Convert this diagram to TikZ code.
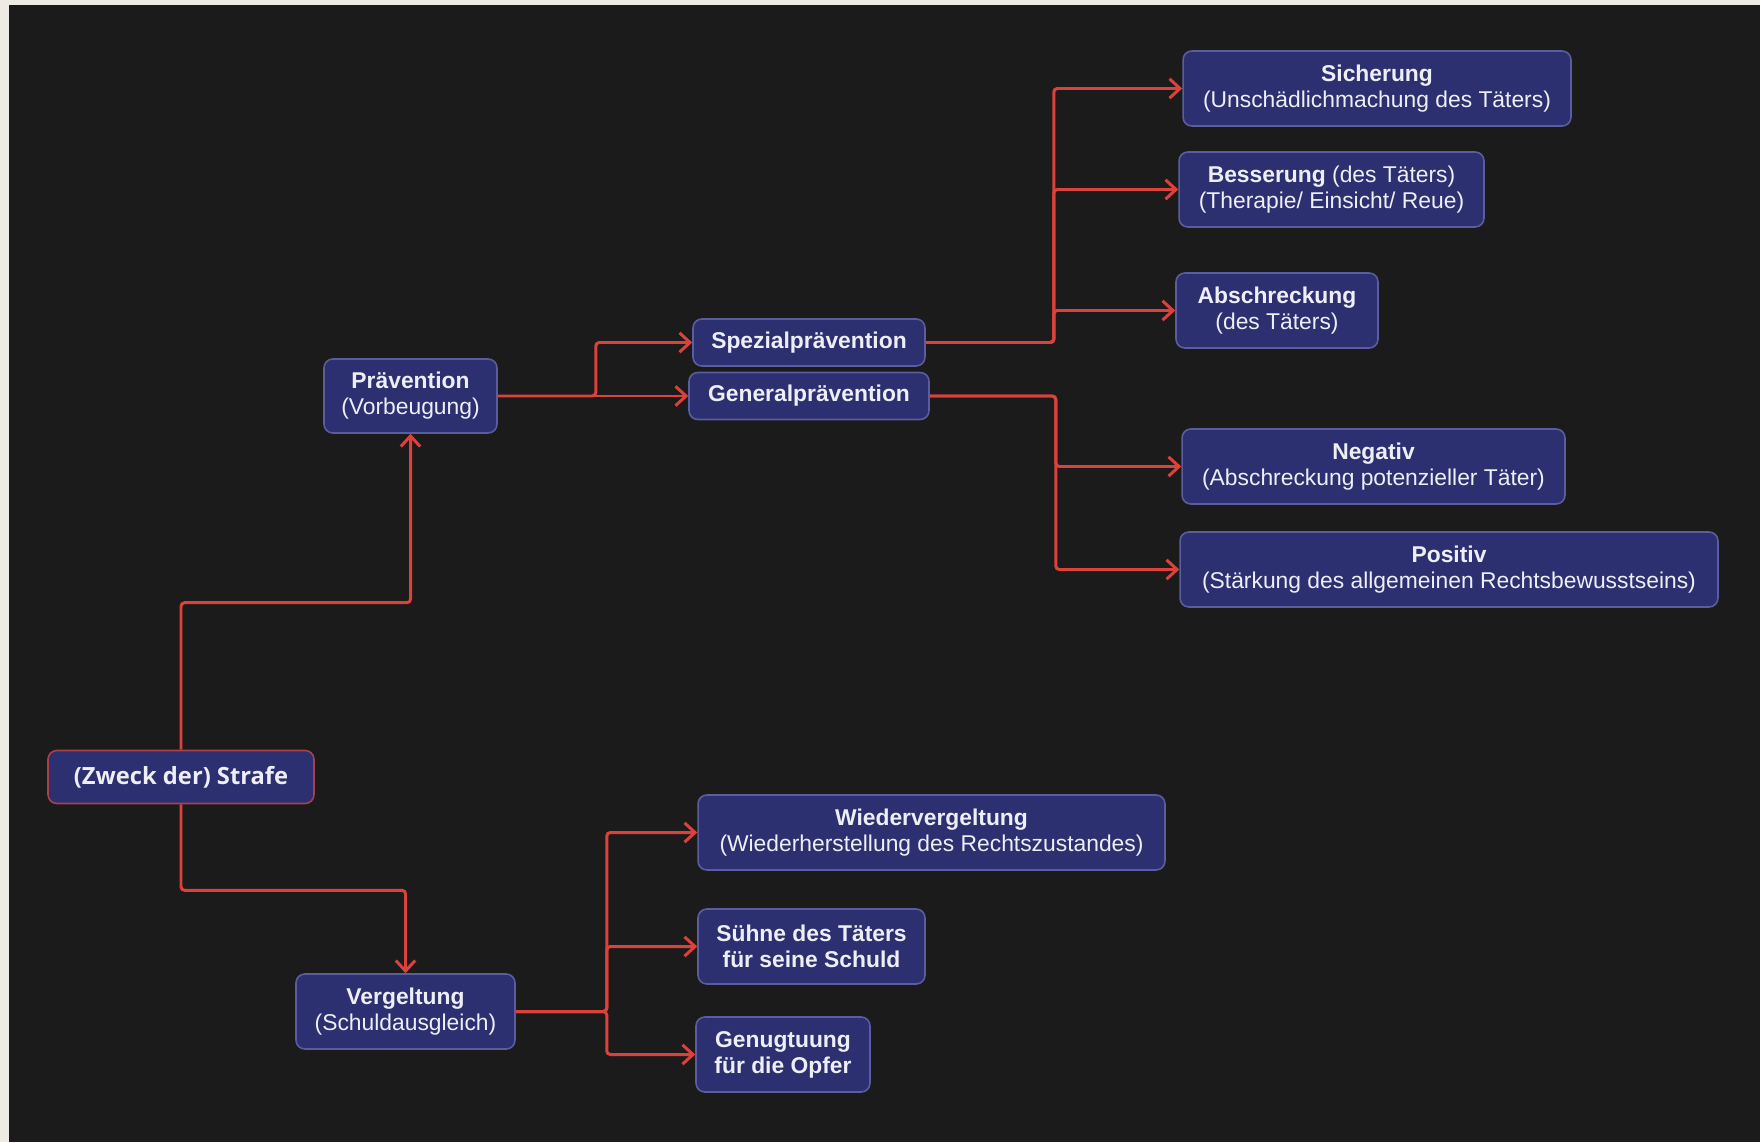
\documentclass[tikz,border=0pt]{standalone}
\usepackage{fontspec}
\setmainfont{Liberation Sans}
\newfontfamily\wurzelfont{Open Sans}
\usetikzlibrary{arrows.meta}
\definecolor{hintergrund}{HTML}{1B1B1B}
\definecolor{rand}{HTML}{EEEBE4}
\definecolor{boxblau}{HTML}{2C3070}
\definecolor{boxrand}{HTML}{5A5E9E}
\definecolor{wurzelrand}{HTML}{A9404E}
\definecolor{linie}{HTML}{DC413B}
\definecolor{schrift}{HTML}{EEEEF6}
\tikzset{
	zweckbox/.style={align=center,rectangle,rounded corners=5pt,draw=boxrand,line width=0.9pt,fill=boxblau,text=schrift,inner sep=2pt,minimum height=1.5cm,font=\fontsize{13}{14.8}\selectfont},
	wurzelbox/.style={zweckbox,draw=wurzelrand,minimum height=1.06cm,font=\wurzelfont\bfseries\fontsize{13.5}{16}\selectfont},
	pfeil/.style={draw=linie,line width=1.7pt,rounded corners=2pt,-{Straight Barb[length=6pt,width=11pt]}}
}
\begin{document}
\begin{tikzpicture}[x=0.02cm,y=-0.02cm]
						\fill[rand] (0,0) rectangle (1760,1142);
						\fill[hintergrund] (9,5) rectangle (1760,1142);
						\useasboundingbox (0,0) rectangle (1760,1142);

						\node (strafe)[wurzelbox,minimum width=5.32cm] at (181,777) {(Zweck der) Strafe};
						\node (praevention)[zweckbox,minimum width=3.46cm,minimum height=1.48cm] at (410.5,396) {\textbf{Prävention}\\(Vorbeugung)};
						\node (vergeltung)[zweckbox,minimum width=4.38cm] at (405.5,1011.5) {\textbf{Vergeltung}\\(Schuldausgleich)};

						\node (spezial)[zweckbox,minimum width=4.64cm,minimum height=0.94cm] at (809,342.5) {\textbf{Spezialprävention}};
						\node (general)[zweckbox,minimum width=4.8cm,minimum height=0.94cm] at (809,396) {\textbf{Generalprävention}};

						\node (sicherung)[zweckbox,minimum width=7.76cm] at (1377,88.5) {\textbf{Sicherung}\\(Unschädlichmachung des Täters)};
						\node (besserung)[zweckbox,minimum width=6.1cm] at (1331.5,189.5) {\textbf{Besserung} (des Täters)\\(Therapie/ Einsicht/ Reue)};
						\node (abschreckung)[zweckbox,minimum width=4.04cm] at (1277,310.5) {\textbf{Abschreckung}\\(des Täters)};
						\node (negativ)[zweckbox,minimum width=7.66cm] at (1373.5,466.5) {\textbf{Negativ}\\(Abschreckung potenzieller Täter)};
						\node (positiv)[zweckbox,minimum width=10.76cm] at (1449,569.5) {\textbf{Positiv}\\(Stärkung des allgemeinen Rechtsbewusstseins)};

						\node (wieder)[zweckbox,minimum width=9.34cm] at (931.5,832.5) {\textbf{Wiedervergeltung}\\(Wiederherstellung des Rechtszustandes)};
						\node (suehne)[zweckbox,minimum width=4.54cm] at (811.5,946.5) {\textbf{Sühne des Täters}\\\textbf{für seine Schuld}};
						\node (genug)[zweckbox,minimum width=3.48cm] at (783,1054.5) {\textbf{Genugtuung}\\\textbf{für die Opfer}};

						\draw[pfeil] (strafe.north) -- ++(0,-147) -| (praevention.south);
						\draw[pfeil] (strafe.south) -- ++(0,86) -| (vergeltung.north);

						\draw[pfeil] (praevention.east) -- ++(98,0) |- (spezial.west);
						\draw[pfeil] (praevention.east) -- (general.west);

						\draw[pfeil] (spezial.east) -- ++(128,0) |- (sicherung.west);
						\draw[pfeil] (spezial.east) -- ++(128,0) |- (besserung.west);
						\draw[pfeil] (spezial.east) -- ++(128,0) |- (abschreckung.west);

						\draw[pfeil] (general.east) -- ++(126,0) |- (negativ.west);
						\draw[pfeil] (general.east) -- ++(126,0) |- (positiv.west);

						\draw[pfeil] (vergeltung.east) -- ++(91,0) |- (wieder.west);
						\draw[pfeil] (vergeltung.east) -- ++(91,0) |- (suehne.west);
						\draw[pfeil] (vergeltung.east) -- ++(91,0) |- (genug.west);
					\end{tikzpicture}
\end{document}
